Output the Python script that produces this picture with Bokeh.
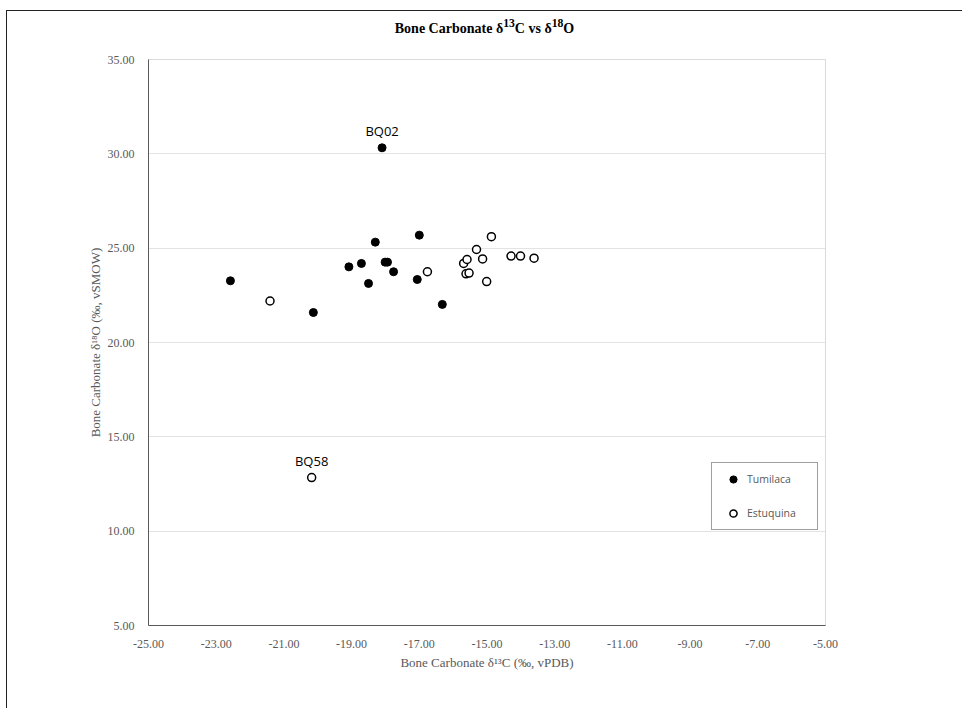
from bokeh.plotting import figure
from bokeh.models import ColumnDataSource, NumeralTickFormatter, FixedTicker, Legend, LegendItem, Range1d, Div
from bokeh.layouts import column
from bokeh.core.properties import value
from bokeh.embed import file_html
from bokeh.resources import INLINE

# Data (d13C, d18O)
tumilaca_x = [-18.10, -22.58, -20.13, -19.08, -18.71, -18.30, -18.50, -18.01, -17.94, -17.76, -17.00, -17.06, -16.32]
tumilaca_y = [30.32, 23.27, 21.59, 24.01, 24.19, 25.32, 23.13, 24.26, 24.26, 23.75, 25.69, 23.34, 22.02]
estuquina_x = [-21.41, -16.76, -15.69, -15.59, -15.62, -15.53, -15.31, -15.13, -14.87, -15.01, -14.29, -14.01, -13.61, -20.18]
estuquina_y = [22.20, 23.75, 24.19, 24.40, 23.64, 23.68, 24.93, 24.43, 25.61, 23.23, 24.58, 24.58, 24.47, 12.84]
label_names = ["BQ02", "BQ58"]
label_x = [-18.10, -20.18]
label_y = [30.32, 12.84]
x_ticks = [-25, -23, -21, -19, -17, -15, -13, -11, -9, -7, -5]
y_ticks = [5, 10, 15, 20, 25, 30, 35]
title_html = "Bone Carbonate &delta;<sup>13</sup>C vs &delta;<sup>18</sup>O"

W = 955
TITLE_H = 37
H = 697 - TITLE_H
frame_left, frame_top = 141, 11
frame_w, frame_h = 677, 566

title_div = Div(
    text=('<div style="width:%dpx;text-align:center;font-family:\'Liberation Serif\';'
          'font-weight:bold;font-size:14px;color:#000;line-height:25px;padding-left:18px;">%s</div>')
    % (W - 18, title_html),
    width=W, height=TITLE_H, margin=0)

p = figure(width=W, height=H, output_backend="svg", toolbar_location=None,
           x_range=Range1d(-25, -5), y_range=Range1d(5, 35),
           min_border_left=frame_left, min_border_right=W - frame_left - frame_w,
           min_border_top=frame_top, min_border_bottom=H - frame_top - frame_h)
p.margin = 0

p.outline_line_color = "#d9d9d9"
p.xgrid.grid_line_color = None
p.ygrid.grid_line_color = "#e3e3e3"
p.ygrid.ticker = FixedTicker(ticks=y_ticks)

for ax in (p.xaxis[0], p.yaxis[0]):
    ax.major_tick_line_color = None
    ax.minor_tick_line_color = None
    ax.axis_line_color = "#595959"
    ax.major_label_text_font = "Liberation Serif"
    ax.major_label_text_font_size = "12px"
    ax.major_label_text_color = "#595959"
    ax.axis_label_text_font = "Liberation Serif"
    ax.axis_label_text_font_size = "13px"
    ax.axis_label_text_color = "#595959"
    ax.axis_label_text_font_style = "normal"
    ax.formatter = NumeralTickFormatter(format="0.00")

p.xaxis[0].ticker = FixedTicker(ticks=x_ticks)
p.yaxis[0].ticker = FixedTicker(ticks=y_ticks)
p.xaxis[0].axis_label = "Bone Carbonate δ¹³C (‰, vPDB)"
p.yaxis[0].axis_label = "Bone Carbonate δ¹⁸O (‰, vSMOW)"
p.xaxis[0].major_label_standoff = 8
p.yaxis[0].major_label_standoff = 8
p.xaxis[0].axis_label_standoff = 4
p.yaxis[0].axis_label_standoff = 2

src_t = ColumnDataSource(dict(x=tumilaca_x, y=tumilaca_y))
src_e = ColumnDataSource(dict(x=estuquina_x, y=estuquina_y))
r_t = p.scatter("x", "y", source=src_t, size=8, fill_color="black", line_color="black")
r_e = p.scatter("x", "y", source=src_e, size=8, fill_color="white", line_color="black", line_width=1.5)

src_l = ColumnDataSource(dict(x=label_x, y=label_y, t=label_names))
p.text("x", "y", text="t", source=src_l, text_align="center", text_baseline="bottom",
       y_offset=-8, text_font=value("Open Sans"), text_font_size="13px", text_color="#000000")

legend = Legend(items=[LegendItem(label="Tumilaca", renderers=[r_t]),
                       LegendItem(label="Estuquina", renderers=[r_e])],
                location=(563, 95))
legend.label_text_font = "Open Sans"
legend.label_text_font_size = "10.5px"
legend.label_text_color = "#595959"
legend.glyph_width = 28
legend.glyph_height = 18
legend.label_standoff = 0
legend.label_width = 63
legend.label_height = 18
legend.padding = 7
legend.spacing = 16
legend.margin = 0
legend.border_line_color = "#404040"
legend.border_line_width = 1
p.add_layout(legend)

layout = column(title_div, p, spacing=0)
layout.margin = (10, 0, 0, 6)
layout.styles = {"border-top": "1.5px solid #222", "border-left": "1.5px solid #222"}

open("out.html", "w").write(file_html(layout, INLINE))
